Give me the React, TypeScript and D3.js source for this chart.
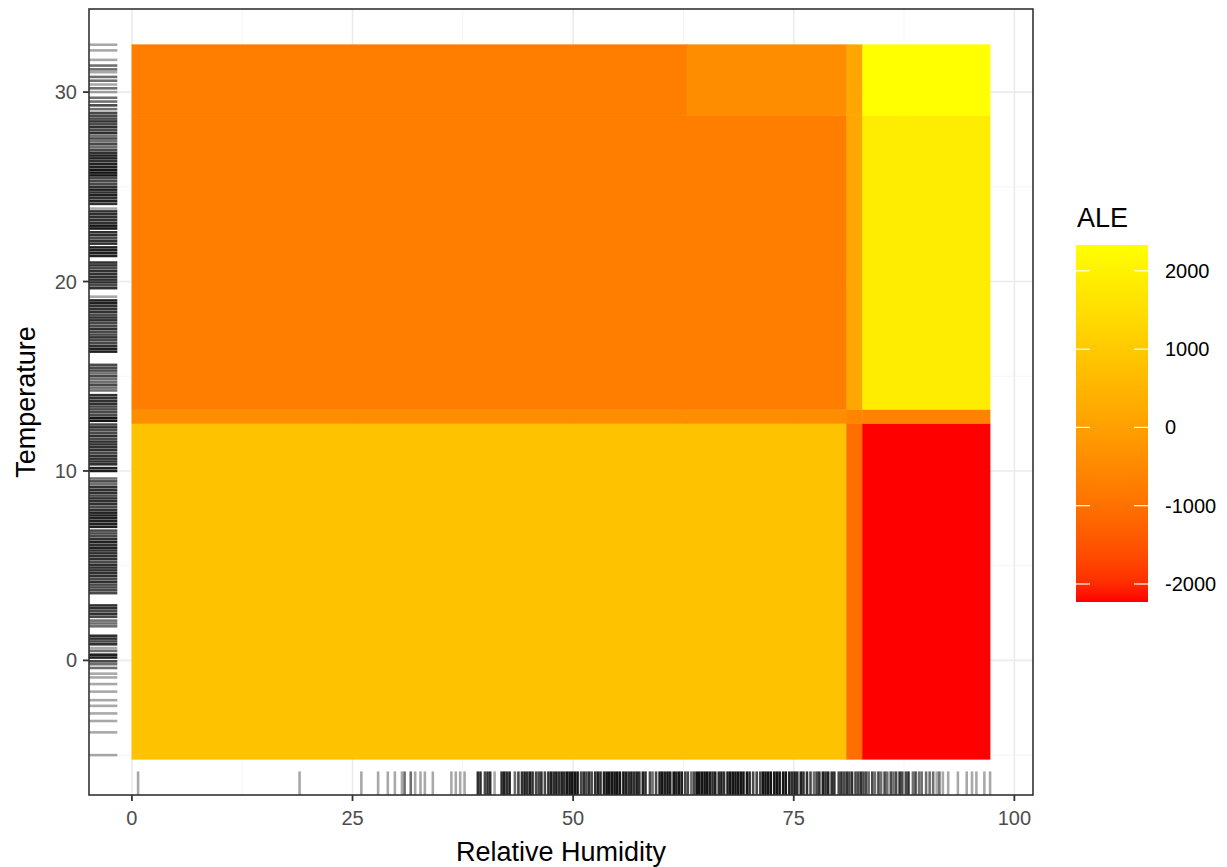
import React from "react";
import * as d3 from "d3";

// ---- data ----
const humBreaks = [0, 62.9, 81.0, 82.8, 97.25];
const tempBreaks = [-5.22, 12.5, 13.25, 28.75, 32.5];
// ALE values, rows from lowest temperature interval to highest, columns by humidity interval
const aleRow0 = [800, 800, -1060, -2230];
const aleRow1 = [-420, -420, -600, -620];
const aleRow2 = [-730, -730, 150, 1880];
const aleRow3 = [-730, -420, 150, 2330];
const aleRows = [aleRow0, aleRow1, aleRow2, aleRow3];

const xTicks = [0, 25, 50, 75, 100];
const yTicks = [0, 10, 20, 30];
const legendTicks = [-2000, -1000, 0, 1000, 2000];

// rug: [value, number of observations]
const tempRug: [number, number][] = [
  [32.5,1],[32.2,1],[31.7,1],[31.4,2],[31.2,2],[31.05,1],[30.8,2],[30.6,2],[30.4,1],[30.2,2],[30.0,1],[29.7,2],[29.5,2],
  [29.3,3],[29.1,2],[28.9,3],[28.75,3],[28.6,3],[28.45,4],[28.3,3],[28.15,4],[28.0,3],[27.85,4],[27.7,2],[27.55,3],
  [27.4,2],[27.25,3],[27.1,2],[26.95,3],[26.8,4],[26.65,5],[26.5,5],[26.35,4],[26.2,5],[26.05,5],[25.9,6],[25.75,6],
  [25.6,6],[25.45,3],[25.3,3],[25.15,3],[25.0,4],[24.85,5],[24.7,4],[24.55,5],[24.4,4],[24.25,5],[24.1,4],[23.85,1],
  [23.7,4],[23.55,4],[23.4,4],[23.25,4],[23.1,4],[22.95,6],[22.8,6],[22.6,4],[22.45,4],[22.3,3],[22.15,4],[22.0,4],
  [21.8,5],[21.65,5],[21.5,5],[21.35,5],[21.0,4],[20.85,4],[20.7,3],[20.55,4],[20.4,4],[20.25,4],[20.1,4],[19.95,4],
  [19.8,3],[19.65,4],[19.2,1],[19.0,5],[18.85,5],[18.7,4],[18.55,4],[18.4,4],[18.25,3],[18.1,4],[17.95,4],[17.8,3],
  [17.65,3],[17.5,4],[17.35,3],[17.2,3],[17.05,4],[16.9,3],[16.75,3],[16.6,4],[16.45,5],[16.3,5],[15.6,3],[15.45,3],
  [15.3,3],[15.15,2],[15.0,3],[14.85,2],[14.7,2],[14.55,3],[14.4,2],[14.25,2],[14.0,4],[13.85,4],[13.7,4],[13.55,4],
  [13.4,3],[13.25,3],[13.1,3],[12.95,3],[12.8,6],[12.65,6],[12.45,3],[12.3,4],[12.15,3],[12.0,3],[11.85,4],[11.7,3],
  [11.55,4],[11.4,4],[11.25,4],[11.1,4],[10.95,3],[10.8,4],[10.65,4],[10.5,4],[10.35,4],[10.15,5],[10.0,5],[9.6,2],
  [9.45,3],[9.3,2],[9.15,4],[9.0,4],[8.85,4],[8.7,3],[8.55,4],[8.4,4],[8.25,4],[8.1,3],[7.95,4],[7.8,5],[7.65,5],
  [7.5,5],[7.35,5],[7.2,5],[7.05,5],[6.85,3],[6.7,3],[6.55,3],[6.4,4],[6.25,5],[6.1,4],[5.95,5],[5.8,4],[5.65,4],
  [5.5,4],[5.35,4],[5.2,3],[5.05,4],[4.9,4],[4.75,4],[4.6,4],[4.45,4],[4.3,3],[4.15,4],[4.0,3],[3.85,3],[3.7,3],
  [3.55,3],[2.9,4],[2.75,4],[2.6,3],[2.45,4],[2.3,3],[2.1,2],[1.95,2],[1.8,2],[1.3,4],[1.15,4],[1.0,3],[0.85,4],
  [0.65,1],[0.5,2],[0.3,5],[0.15,5],[-0.05,3],[-0.2,2],[-0.4,2],[-0.7,1],[-0.9,1],[-1.25,1],[-1.65,1],[-2.1,1],
  [-2.4,1],[-2.8,1],[-3.2,1],[-3.8,1],[-5.0,1]
];

const humRug: [number, number][] = [
  [0.7,1],[19.0,1],[26.0,1],[27.9,1],[29.0,1],[29.8,1],[30.6,1],[30.9,2],[31.6,2],[32.1,1],[32.7,1],[33.2,1],[34.1,1],
  [36.2,1],[36.7,1],[37.2,1],[37.7,1],[39.2,4],[39.5,4],[40.0,3],[40.3,4],[40.6,4],[41.1,1],[41.9,4],[42.2,5],[42.5,4],
  [42.8,5],[43.4,2],[43.8,3],[44.2,4],[44.5,5],[44.8,4],[45.1,5],[45.4,4],[45.8,3],[46.1,3],[46.4,4],[46.8,3],[47.2,4],
  [47.5,5],[47.8,4],[48.1,5],[48.4,4],[48.7,5],[49.0,4],[49.3,6],[49.6,6],[49.9,6],[50.2,6],[50.5,6],[50.9,3],[51.2,4],
  [51.5,3],[51.8,4],[52.1,3],[52.5,4],[52.8,5],[53.1,4],[53.5,5],[53.8,6],[54.1,6],[54.4,6],[54.7,6],[55.0,6],[55.3,6],
  [55.7,6],[56.0,5],[56.3,4],[56.6,5],[56.9,4],[57.2,5],[57.5,4],[57.9,5],[58.2,4],[58.7,3],[59.0,2],[59.4,3],[59.8,5],
  [60.1,6],[60.4,5],[60.7,6],[61.0,5],[61.4,6],[61.7,5],[62.0,6],[62.3,5],[62.7,3],[63.0,3],[63.4,2],[63.7,3],[64.0,6],
  [64.3,6],[64.6,6],[64.9,6],[65.2,6],[65.5,5],[65.8,4],[66.1,5],[66.5,4],[66.8,5],[67.1,4],[67.5,5],[67.8,6],[68.1,6],
  [68.4,6],[68.7,6],[69.0,6],[69.3,6],[69.7,6],[70.0,4],[70.4,3],[70.8,3],[71.2,3],[71.5,6],[71.8,6],[72.1,6],[72.4,6],
  [72.8,6],[73.1,6],[73.4,6],[73.8,6],[74.1,6],[74.5,5],[74.8,4],[75.1,5],[75.4,4],[75.8,5],[76.1,4],[76.5,4],[76.9,3],
  [77.3,2],[77.6,3],[77.9,4],[78.3,5],[78.6,4],[78.9,5],[79.3,4],[79.6,4],[80.1,3],[80.4,4],[80.7,3],[81.0,4],[81.3,3],
  [81.6,4],[82.0,3],[82.3,3],[82.6,4],[82.9,3],[83.2,3],[83.5,2],[83.9,3],[84.2,2],[84.6,3],[84.9,2],[85.3,3],[85.6,2],
  [86.0,3],[86.3,2],[86.6,3],[87.0,4],[87.3,3],[87.7,3],[88.0,4],[88.5,2],[88.8,3],[89.2,2],[89.5,2],[90.0,2],[90.4,2],
  [90.8,2],[91.2,1],[91.5,2],[91.9,1],[92.5,1],[93.6,1],[94.6,1],[95.2,1],[95.7,1],[96.6,1],[97.25,1]
];

const W = 1227;
const H = 867;
const panel = { left: 89, right: 1033, top: 9, bottom: 795 };
const FONT = "'Liberation Sans', Arial, Helvetica, sans-serif";

export default function App() {
  const hExt = [humBreaks[0], humBreaks[humBreaks.length - 1]];
  const tExt = [tempBreaks[0], tempBreaks[tempBreaks.length - 1]];
  const hPad = (hExt[1] - hExt[0]) * 0.05;
  const tPad = (tExt[1] - tExt[0]) * 0.05;
  const x = d3.scaleLinear().domain([hExt[0] - hPad, hExt[1] + hPad]).range([panel.left, panel.right]);
  const y = d3.scaleLinear().domain([tExt[0] - tPad, tExt[1] + tPad]).range([panel.bottom, panel.top]);

  const allVals = aleRows.flat();
  const vExt = d3.extent(allVals) as [number, number];
  const color = d3.scaleLinear<string>().domain(vExt).range(["#FF0000", "#FFFF00"]).interpolate(d3.interpolateLab);

  const xMinor = [12.5, 37.5, 62.5, 87.5];
  const yMinor = [-5, 5, 15, 25];

  const cells: { x0: number; x1: number; y0: number; y1: number; v: number }[] = [];
  aleRows.forEach((row, r) => {
    row.forEach((v, c) => {
      cells.push({ x0: humBreaks[c], x1: humBreaks[c + 1], y0: tempBreaks[r], y1: tempBreaks[r + 1], v });
    });
  });

  const rugA = 0.34;
  const rugW = 2.6;
  const rugLenX = (panel.right - panel.left) * 0.03;
  const rugLenY = (panel.bottom - panel.top) * 0.03;

  // legend
  const lg = { left: 1076, right: 1148, top: 245, bottom: 602 };
  const ly = d3.scaleLinear().domain(vExt).range([lg.bottom, lg.top]);
  const stops = d3.range(0, 21).map((i) => i / 20);

  return (
    <svg width={W} height={H} style={{ position: "absolute", left: 0, top: 0, background: "#fff" }} fontFamily={FONT}>
      <rect x={0} y={0} width={W} height={H} fill="#fff" />
      <defs>
        <linearGradient id="leg" x1="0" y1="1" x2="0" y2="0">
          {stops.map((s) => (
            <stop key={s} offset={s} stopColor={color(vExt[0] + s * (vExt[1] - vExt[0]))} />
          ))}
        </linearGradient>
        <clipPath id="pc">
          <rect x={panel.left} y={panel.top} width={panel.right - panel.left} height={panel.bottom - panel.top} />
        </clipPath>
      </defs>
      {/* grid */}
      <g clipPath="url(#pc)">
        {xMinor.map((v) => (
          <line key={"xm" + v} x1={x(v)} x2={x(v)} y1={panel.top} y2={panel.bottom} stroke="#F2F2F2" strokeWidth={0.8} />
        ))}
        {yMinor.map((v) => (
          <line key={"ym" + v} y1={y(v)} y2={y(v)} x1={panel.left} x2={panel.right} stroke="#F2F2F2" strokeWidth={0.8} />
        ))}
        {xTicks.map((v) => (
          <line key={"xg" + v} x1={x(v)} x2={x(v)} y1={panel.top} y2={panel.bottom} stroke="#EBEBEB" strokeWidth={1.6} />
        ))}
        {yTicks.map((v) => (
          <line key={"yg" + v} y1={y(v)} y2={y(v)} x1={panel.left} x2={panel.right} stroke="#EBEBEB" strokeWidth={1.6} />
        ))}
        {cells.map((c, i) => (
          <rect
            key={"c" + i}
            x={x(c.x0)}
            y={y(c.y1)}
            width={x(c.x1) - x(c.x0)}
            height={y(c.y0) - y(c.y1)}
            fill={color(c.v)}
            stroke={color(c.v)}
            strokeWidth={0.5}
          />
        ))}
        {tempRug.map(([v, n], i) => (
          <line
            key={"tr" + i}
            x1={panel.left}
            x2={panel.left + rugLenX}
            y1={y(v)}
            y2={y(v)}
            stroke="#000"
            strokeWidth={rugW}
            strokeOpacity={1 - Math.pow(1 - rugA, n)}
          />
        ))}
        {humRug.map(([v, n], i) => (
          <line
            key={"hr" + i}
            x1={x(v)}
            x2={x(v)}
            y1={panel.bottom}
            y2={panel.bottom - rugLenY}
            stroke="#000"
            strokeWidth={rugW}
            strokeOpacity={1 - Math.pow(1 - rugA, n)}
          />
        ))}
      </g>
      <rect
        x={panel.left}
        y={panel.top}
        width={panel.right - panel.left}
        height={panel.bottom - panel.top}
        fill="none"
        stroke="#333333"
        strokeWidth={1.6}
      />
      {/* x axis */}
      {xTicks.map((v) => (
        <g key={"xt" + v}>
          <line x1={x(v)} x2={x(v)} y1={panel.bottom} y2={panel.bottom + 6} stroke="#333333" strokeWidth={1.8} />
          <text x={x(v)} y={panel.bottom + 30} textAnchor="middle" fontSize={20} fill="#4D4D4D">
            {v}
          </text>
        </g>
      ))}
      {yTicks.map((v) => (
        <g key={"yt" + v}>
          <line x1={panel.left - 6} x2={panel.left} y1={y(v)} y2={y(v)} stroke="#333333" strokeWidth={1.8} />
          <text x={panel.left - 12} y={y(v) + 7} textAnchor="end" fontSize={20} fill="#4D4D4D">
            {v}
          </text>
        </g>
      ))}
      <text x={(panel.left + panel.right) / 2} y={861} textAnchor="middle" fontSize={27} fill="#000">
        Relative Humidity
      </text>
      <text
        transform={`translate(35, ${(panel.top + panel.bottom) / 2}) rotate(-90)`}
        textAnchor="middle"
        fontSize={27}
        fill="#000"
      >
        Temperature
      </text>
      {/* legend */}
      <text x={1077} y={227} fontSize={27} fill="#000">
        ALE
      </text>
      <rect x={lg.left} y={lg.top} width={lg.right - lg.left} height={lg.bottom - lg.top} fill="url(#leg)" />
      {legendTicks.map((v) => (
        <g key={"lt" + v}>
          <line x1={lg.left} x2={lg.left + 14} y1={ly(v)} y2={ly(v)} stroke="#fff" strokeWidth={1.2} />
          <line x1={lg.right - 14} x2={lg.right} y1={ly(v)} y2={ly(v)} stroke="#fff" strokeWidth={1.2} />
          <text x={1165} y={ly(v) + 7} fontSize={20} fill="#000">
            {v}
          </text>
        </g>
      ))}
    </svg>
  );
}
